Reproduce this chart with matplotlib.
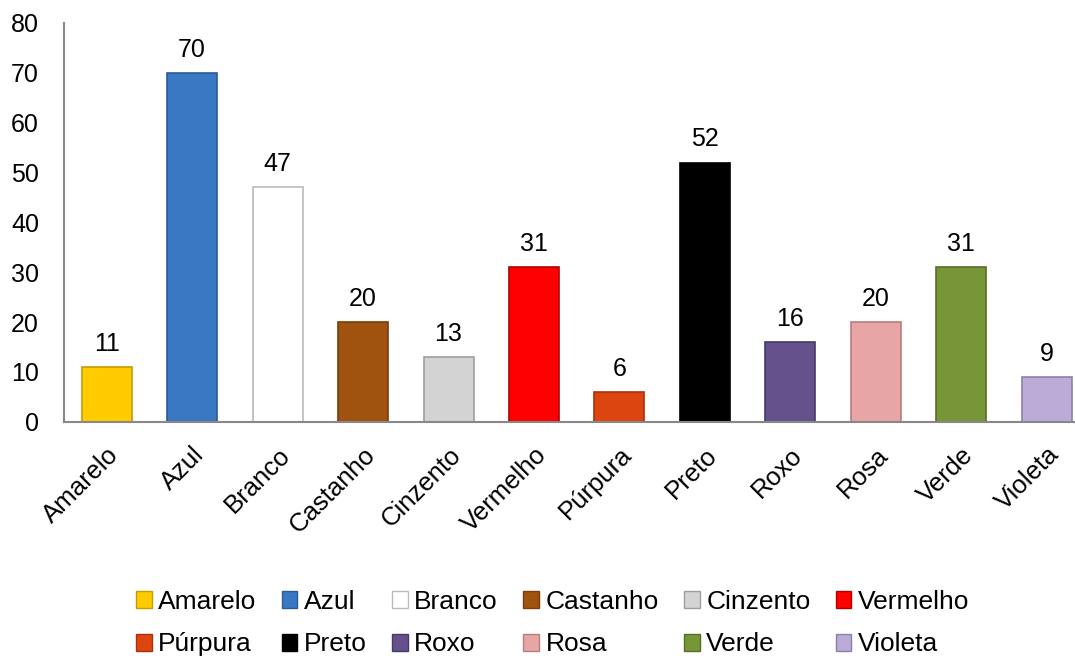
import matplotlib
matplotlib.use("Agg")
import matplotlib.pyplot as plt
from matplotlib.patches import Patch

# --- data ---
categories = ["Amarelo", "Azul", "Branco", "Castanho", "Cinzento", "Vermelho",
              "Púrpura", "Preto", "Roxo", "Rosa", "Verde", "Violeta"]
values = [11, 70, 47, 20, 13, 31, 6, 52, 16, 20, 31, 9]
bar_colors = ["#FFCC00", "#3B78C4", "#FFFFFF", "#A0520F", "#D3D3D3", "#FF0000",
              "#DD4510", "#000000", "#65518C", "#E8A5A5", "#779638", "#BBABD6"]
edge_colors = ["#C89A00", "#2B5A95", "#BBBBBB", "#7A3C08", "#9E9E9E", "#B00000",
               "#A83208", "#000000", "#47396A", "#B87D7D", "#566E28", "#8D80A8"]
y_ticks = [0, 10, 20, 30, 40, 50, 60, 70, 80]

plt.rcParams['font.family'] = ['Liberation Sans', 'DejaVu Sans']
FS = 18

fig = plt.figure(figsize=(10.75, 6.56), dpi=100)
ax = fig.add_axes([0.0595, 0.357, 0.954, 0.608])

x = list(range(len(categories)))
bars = ax.bar(x, values, width=0.585, color=bar_colors, edgecolor=edge_colors,
              linewidth=1.2, zorder=2)

# value labels on top of each bar
for xi, v in zip(x, values):
    ax.annotate(str(v), (xi, v), xytext=(0, 8), textcoords="offset points",
                ha="center", va="bottom", fontsize=FS)

ax.set_xlim(-0.5, len(categories) - 0.5)
ax.set_ylim(0, 80)
ax.set_yticks(y_ticks)
ax.tick_params(axis="y", length=0, labelsize=FS, pad=18)
ax.set_xticks(x)
ax.set_xticklabels(categories, rotation=45, ha="right", rotation_mode="anchor",
                   fontsize=18.5)
ax.tick_params(axis="x", length=0, pad=15)

for side in ("top", "right"):
    ax.spines[side].set_visible(False)
for side in ("left", "bottom"):
    ax.spines[side].set_color("#888888")
    ax.spines[side].set_linewidth(1.5)

# legend: Excel-like row-major order, matplotlib fills column-major
handles = [Patch(facecolor=c, edgecolor=e, linewidth=1.0)
           for c, e in zip(bar_colors, edge_colors)]
ncol = 6
order = []
for col in range(ncol):
    order.append(col)
    order.append(col + ncol)
leg = fig.legend([handles[i] for i in order], [categories[i] for i in order],
                 ncol=ncol, loc="center", bbox_to_anchor=(0.514, 0.05),
                 frameon=False, fontsize=19, handlelength=0.6, handleheight=0.6,
                 handletextpad=0.25, columnspacing=0.95, labelspacing=0.7,
                 borderpad=0.2)

fig.savefig("out.png", dpi=100)
